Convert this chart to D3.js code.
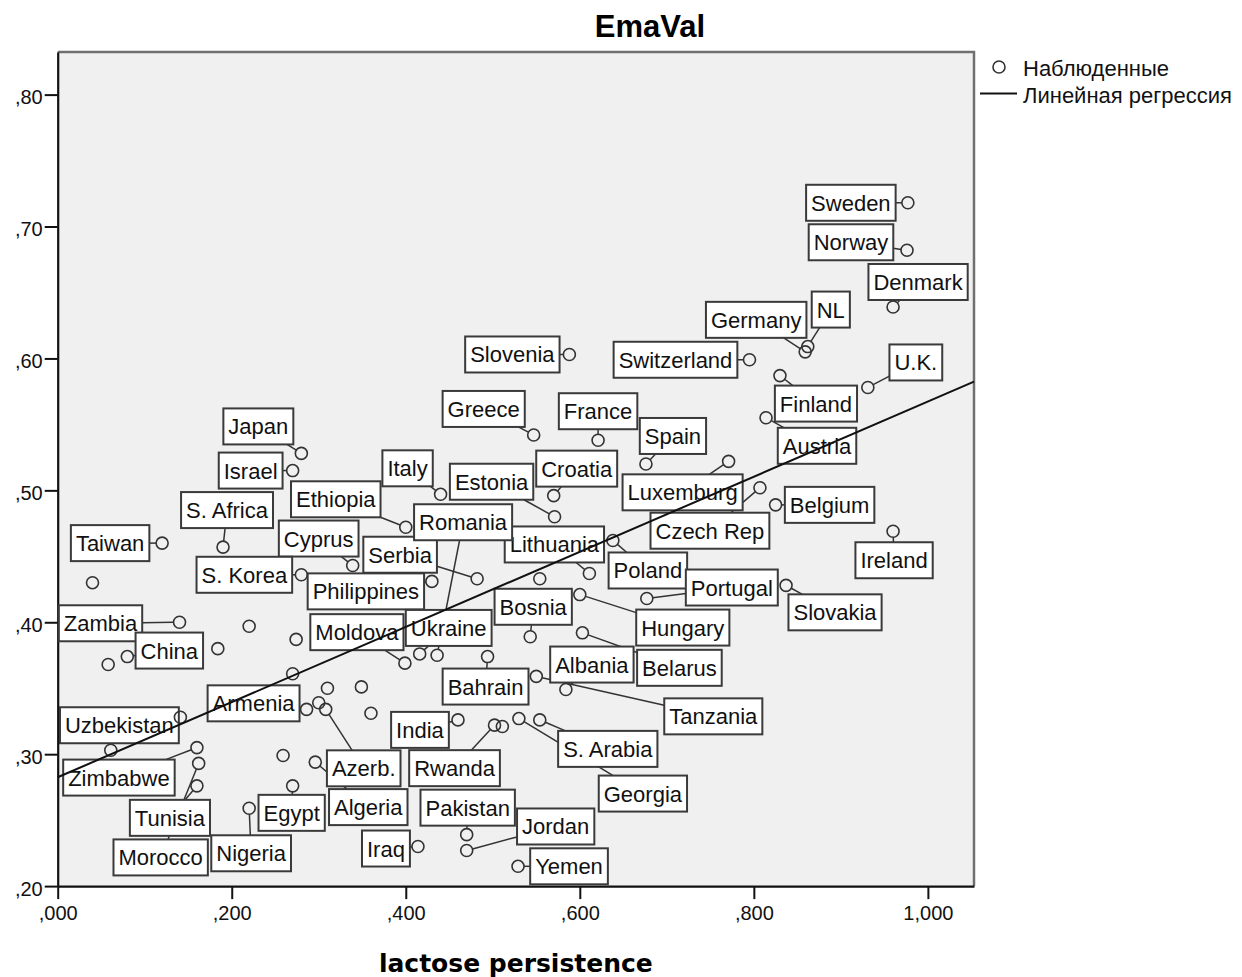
<!DOCTYPE html>
<html>
<head>
<meta charset="utf-8">
<script src="https://cdn.jsdelivr.net/npm/d3@7"></script>
<style>
  body { margin: 0; background: #fff; }
</style>
</head>
<body>
<div id="chart"></div>
<script>
// Data: lactose persistence (x) vs EmaVal (y)
const countries = [
    "Sweden", "Norway", "Denmark", "NL", "Germany", "Switzerland", "Slovenia", "U.K.",
    "Finland", "Austria", "Greece", "France", "Spain", "Luxemburg", "Czech Rep", "Belgium",
    "Ireland", "Italy", "Croatia", "Estonia", "Poland", "Lithuania", "Slovakia", "Portugal",
    "Hungary", "Belarus", "Bosnia", "Albania", "Tanzania", "Bahrain", "Rwanda", "S. Arabia",
    "Georgia", "India", "Pakistan", "Jordan", "Yemen", "Iraq", "Ethiopia", "Japan",
    "Israel", "S. Africa", "Taiwan", "Cyprus", "S. Korea", "Serbia", "Philippines", "Romania",
    "Ukraine", "Moldova", "Zambia", "China", "Uzbekistan", "Zimbabwe", "Morocco", "Tunisia",
    "Armenia", "Azerb.", "Algeria", "Egypt", "Nigeria",
    "", "", "", "", "", "", "", "", "", "", "", "", "", ""
];
const lactose = [
    0.977, 0.976, 0.960, 0.862, 0.859, 0.795, 0.588, 0.931,
    0.830, 0.814, 0.547, 0.621, 0.676, 0.771, 0.807, 0.825,
    0.960, 0.440, 0.570, 0.571, 0.638, 0.611, 0.837, 0.677,
    0.600, 0.603, 0.543, 0.584, 0.550, 0.494, 0.502, 0.554,
    0.530, 0.460, 0.470, 0.470, 0.529, 0.414, 0.400, 0.280,
    0.270, 0.190, 0.120, 0.339, 0.280, 0.482, 0.430, 0.436,
    0.416, 0.399, 0.140, 0.080, 0.141, 0.160, 0.162, 0.160,
    0.286, 0.308, 0.296, 0.270, 0.220,
    0.554, 0.511, 0.058, 0.040, 0.184, 0.220, 0.274, 0.270, 0.310, 0.349, 0.300, 0.360, 0.061, 0.259
];
const emaVal = [
    0.718, 0.682, 0.639, 0.609, 0.605, 0.599, 0.603, 0.578,
    0.587, 0.555, 0.542, 0.538, 0.520, 0.522, 0.502, 0.489,
    0.469, 0.497, 0.496, 0.480, 0.462, 0.437, 0.428, 0.418,
    0.421, 0.392, 0.389, 0.349, 0.359, 0.374, 0.322, 0.326,
    0.327, 0.326, 0.239, 0.227, 0.215, 0.230, 0.472, 0.528,
    0.515, 0.457, 0.460, 0.443, 0.436, 0.433, 0.431, 0.375,
    0.376, 0.369, 0.400, 0.374, 0.328, 0.305, 0.293, 0.276,
    0.334, 0.334, 0.294, 0.276, 0.259,
    0.433, 0.321, 0.368, 0.430, 0.380, 0.397, 0.387, 0.361, 0.350, 0.351, 0.339, 0.331, 0.303, 0.299
];
const xTicks = [0, 0.2, 0.4, 0.6, 0.8, 1.0];
const yTicks = [0.2, 0.3, 0.4, 0.5, 0.6, 0.7, 0.8];
const legendLabels = ["Наблюденные", "Линейная регрессия"];

// where each label box sits, in px, box centre relative to its point
const labelOffsets = {
    "Sweden": [-57, 0], "Norway": [-56, -8], "Denmark": [25, -25], "NL": [23, -37],
    "Germany": [-49, -32], "Switzerland": [-74, 0], "Slovenia": [-57, 0], "U.K.": [48, -25],
    "Finland": [36, 28], "Austria": [51, 28], "Greece": [-50, -26], "France": [0, -29],
    "Spain": [27, -28], "Luxemburg": [-46, 31], "Czech Rep": [-50, 43], "Belgium": [54, 0],
    "Ireland": [1, 29], "Italy": [-33, -26], "Croatia": [23, -27], "Estonia": [-63, -35],
    "Poland": [35, 30], "Lithuania": [-35, -29], "Slovakia": [49, 27], "Portugal": [85, -11],
    "Hungary": [103, 33], "Belarus": [97, 35], "Bosnia": [3, -30], "Albania": [26, -25],
    "Tanzania": [177, 40], "Bahrain": [-2, 30], "Rwanda": [-40, 43], "S. Arabia": [68, 29],
    "Georgia": [124, 75], "India": [-38, 10], "Pakistan": [1, -27], "Jordan": [89, -24],
    "Yemen": [51, 0], "Iraq": [-32, 2], "Ethiopia": [-70, -28], "Japan": [-43, -27],
    "Israel": [-42, 0], "S. Africa": [4, -37], "Taiwan": [-52, 0], "Cyprus": [-34, -27],
    "S. Korea": [-57, 0], "Serbia": [-77, -24], "Philippines": [-66, 10], "Romania": [26, -133],
    "Ukraine": [29, -26], "Moldova": [-48, -31], "Zambia": [-79, 1], "China": [42, -6],
    "Uzbekistan": [-61, 8], "Zimbabwe": [-78, 30], "Morocco": [-38, 94], "Tunisia": [-27, 32],
    "Armenia": [-53, -6], "Azerb.": [38, 59], "Algeria": [53, 45], "Egypt": [-1, 27],
    "Nigeria": [2, 45]
};

const width = 1242, height = 977;
const plot = { left: 57.7, right: 974, top: 52, bottom: 886.1 };
const sans = "'Liberation Sans', Arial, sans-serif";

const svg = d3.select('#chart')
    .append('svg')
    .attr('width', width)
    .attr('height', height);

const x = d3.scaleLinear().domain([0, 1.053]).range([plot.left, plot.right]);
const y = d3.scaleLinear().domain([0.2, 0.8323]).range([plot.bottom, plot.top]);

// SPSS style numbers: comma decimal, no leading zero
const fmtX = v => d3.format('.3f')(v).replace('.', ',').replace(/^0,/, ',');
const fmtY = v => d3.format('.2f')(v).replace('.', ',').replace(/^0,/, ',');

const points = countries.map((c, i) => ({ name: c, lx: lactose[i], ev: emaVal[i] }));

// plot background + frame
svg.append('rect')
    .attr('x', plot.left).attr('y', plot.top)
    .attr('width', plot.right - plot.left).attr('height', plot.bottom - plot.top)
    .attr('fill', '#f0f0f0');
svg.append('path')
    .attr('d', `M${plot.left},${plot.top}H${plot.right}V${plot.bottom}`)
    .attr('fill', 'none').attr('stroke', '#707070').attr('stroke-width', 2.5);

// title
svg.append('text')
    .attr('x', 650).attr('y', 37)
    .attr('text-anchor', 'middle')
    .style('font-family', sans).style('font-weight', 'bold').style('font-size', '31px')
    .text('EmaVal');

// axes
const xAxis = svg.append('g')
    .attr('transform', `translate(0,${plot.bottom})`)
    .call(d3.axisBottom(x).tickValues(xTicks).tickFormat(fmtX)
        .tickSizeInner(13).tickSizeOuter(0).tickPadding(7));
const yAxis = svg.append('g')
    .attr('transform', `translate(${plot.left},0)`)
    .call(d3.axisLeft(y).tickValues(yTicks).tickFormat(fmtY)
        .tickSizeInner(13).tickSizeOuter(0).tickPadding(2));
[xAxis, yAxis].forEach(a => {
    a.select('.domain').attr('stroke', '#111').attr('stroke-width', 2.2);
    a.selectAll('.tick line').attr('stroke', '#111').attr('stroke-width', 2);
    a.selectAll('.tick text')
        .style('font-family', sans).style('font-size', '20px').attr('fill', '#111');
});
yAxis.selectAll('.tick text').attr('dy', '0.45em');

svg.append('text')
    .attr('x', (plot.left + plot.right) / 2).attr('y', 972)
    .attr('text-anchor', 'middle')
    .style('font-family', "'DejaVu Sans', Verdana, sans-serif")
    .style('font-weight', 'bold').style('font-size', '25px')
    .text('lactose persistence');

// labels: leader lines, then boxes
const r = 6;
const labelled = points.filter(p => p.name && labelOffsets[p.name]);
const leaders = svg.append('g');
const boxes = svg.append('g');

labelled.forEach(p => {
    const px = x(p.lx), py = y(p.ev);
    const [ox, oy] = labelOffsets[p.name];
    const cx = px + ox, cy = py + oy;
    const g = boxes.append('g');
    const t = g.append('text')
        .attr('x', cx).attr('y', cy + 8)
        .attr('text-anchor', 'middle')
        .style('font-family', sans).style('font-size', '22px')
        .attr('fill', '#111')
        .text(p.name);
    const w = t.node().getComputedTextLength() + 10, h = 36;
    g.insert('rect', 'text')
        .attr('x', cx - w / 2).attr('y', cy - h / 2)
        .attr('width', w).attr('height', h)
        .attr('fill', '#fff').attr('stroke', '#3a3a3a').attr('stroke-width', 2);

    // leader from circle edge to box edge
    const dx = cx - px, dy = cy - py;
    const s = Math.min(dx ? (w / 2) / Math.abs(dx) : Infinity, dy ? (h / 2) / Math.abs(dy) : Infinity);
    if (s >= 1) return;
    const ex = cx - s * dx, ey = cy - s * dy;
    const len = Math.hypot(dx, dy);
    const sx = px + r * dx / len, sy = py + r * dy / len;
    if (Math.hypot(ex - sx, ey - sy) < 1) return;
    leaders.append('line')
        .attr('x1', sx).attr('y1', sy).attr('x2', ex).attr('y2', ey)
        .attr('stroke', '#333').attr('stroke-width', 1.5);
});

// observed points
svg.append('g').selectAll('circle')
    .data(points)
    .enter()
    .append('circle')
    .attr('cx', d => x(d.lx))
    .attr('cy', d => y(d.ev))
    .attr('r', r)
    .attr('fill', 'none')
    .attr('stroke', '#333')
    .attr('stroke-width', 1.6);

// least squares fit
const mx = d3.mean(lactose), my = d3.mean(emaVal);
const slope = d3.sum(lactose, (v, i) => (v - mx) * (emaVal[i] - my)) / d3.sum(lactose, v => (v - mx) ** 2);
const intercept = my - slope * mx;
const xd = x.domain();
svg.append('line')
    .attr('x1', x(xd[0])).attr('y1', y(intercept + slope * xd[0]))
    .attr('x2', x(xd[1])).attr('y2', y(intercept + slope * xd[1]))
    .attr('stroke', '#111').attr('stroke-width', 2);

// legend
const legend = svg.append('g');
legend.append('circle')
    .attr('cx', 999).attr('cy', 67).attr('r', r)
    .attr('fill', 'none').attr('stroke', '#333').attr('stroke-width', 1.6);
legend.append('line')
    .attr('x1', 980).attr('x2', 1017).attr('y1', 93.5).attr('y2', 93.5)
    .attr('stroke', '#111').attr('stroke-width', 2);
legend.selectAll('.legend-text')
    .data(legendLabels)
    .enter()
    .append('text')
    .attr('class', 'legend-text')
    .attr('x', 1023)
    .attr('y', (d, i) => 76 + i * 27)
    .style('font-family', sans).style('font-size', '22px')
    .attr('fill', '#111')
    .text(d => d);
</script>
</body>
</html>
